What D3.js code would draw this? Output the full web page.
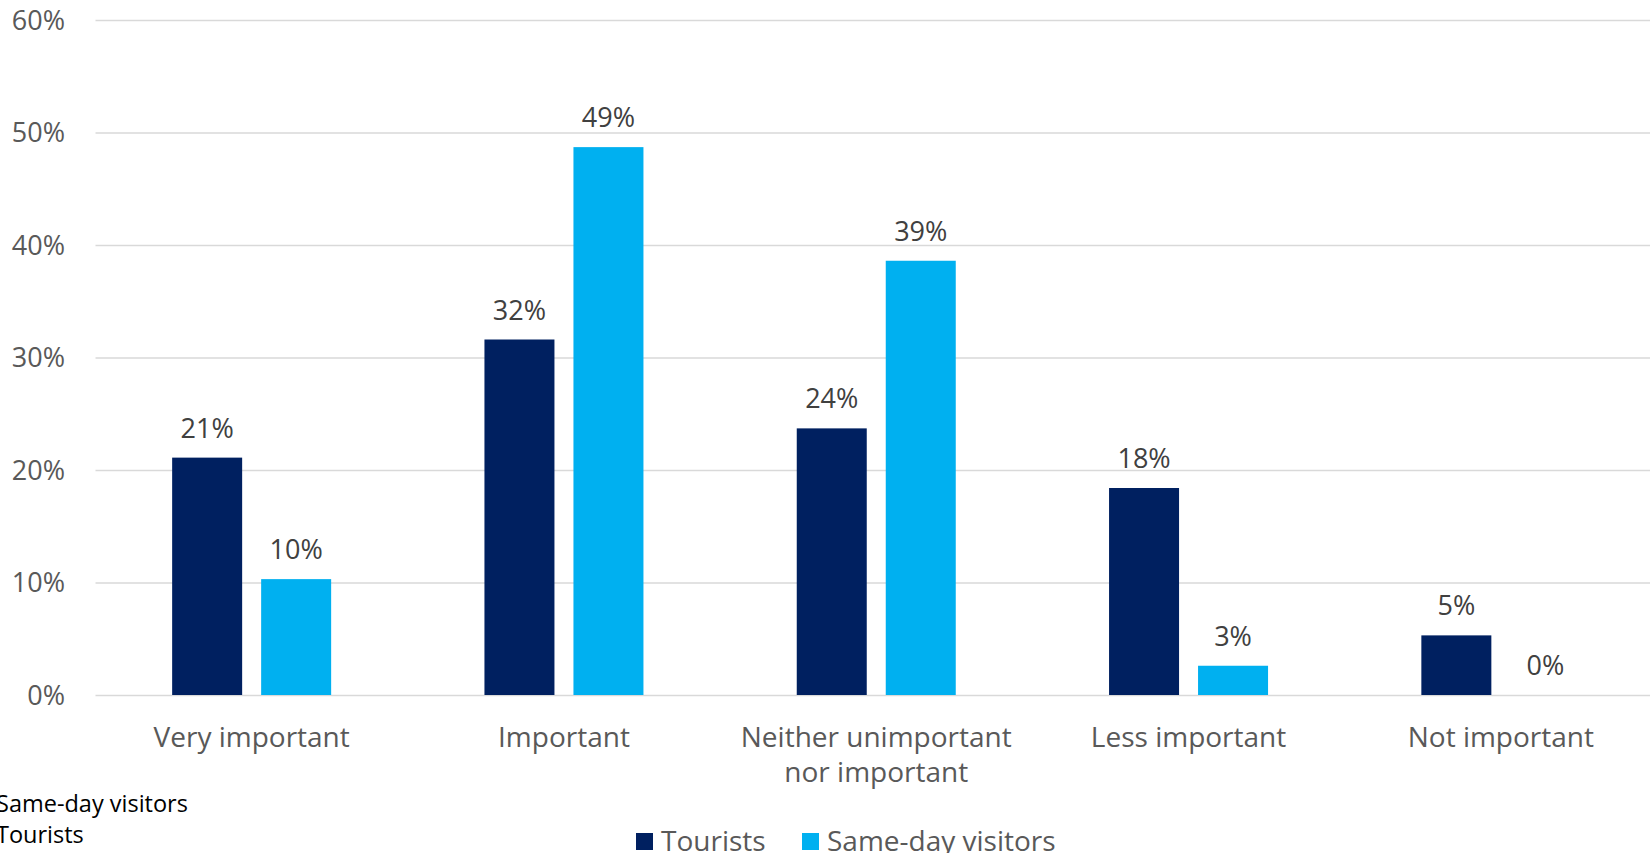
<!DOCTYPE html>
<html>
<head>
<meta charset="utf-8">
<script src="https://cdn.jsdelivr.net/npm/d3@7"></script>
<style>
  html, body { margin: 0; padding: 0; background: #fff; overflow: hidden; }
  svg { display: block; }
  text { font-family: "Open Sans", "Noto Sans", sans-serif; }
</style>
</head>
<body>
<svg id="chart" width="1650" height="853"></svg>
<script>
// Importance ratings by visitor type
const categories = [
  ["Very important"],
  ["Important"],
  ["Neither unimportant", "nor important"],
  ["Less important"],
  ["Not important"]
];
const seriesNames = ["Tourists", "Same-day visitors"];
const tourists = [0.211, 0.316, 0.237, 0.184, 0.053];
const sameDay  = [0.103, 0.487, 0.386, 0.026, 0.0];
const yTicks = [0, 0.1, 0.2, 0.3, 0.4, 0.5, 0.6];
const colors = ["#002060", "#00B0F0"];

const svg = d3.select("#chart");
const fmt = d3.format(".0%");

const plotLeft = 95.5, plotRight = 1657;

const x0 = d3.scaleBand()
  .domain(d3.range(categories.length))
  .range([plotLeft, plotRight]);

const groupWidth = 159;
const x1 = d3.scaleBand()
  .domain(seriesNames)
  .range([0, groupWidth])
  .paddingInner(19 / 89);

const y = d3.scaleLinear().domain([0, 0.6]).range([695, 20]);

// gridlines
const grid = svg.append("g")
  .attr("transform", `translate(${plotLeft},0)`)
  .call(d3.axisLeft(y).tickValues(yTicks).tickSize(-(plotRight - plotLeft)).tickFormat(""));
grid.select(".domain").remove();
grid.selectAll(".tick line").attr("stroke", "#d9d9d9").attr("stroke-width", 1.5);

// y tick labels
const yAxis = svg.append("g")
  .attr("transform", "translate(65,0)")
  .call(d3.axisLeft(y).tickValues(yTicks).tickSize(0).tickPadding(0).tickFormat(fmt));
yAxis.select(".domain").remove();
yAxis.selectAll("text")
  .attr("font-family", "Open Sans")
  .attr("font-size", 27)
  .attr("fill", "#595959")
  .attr("dy", "0.35em");

// bars
const data = [tourists, sameDay];
const groups = svg.append("g").selectAll("g")
  .data(categories.map((c, i) => i))
  .join("g")
  .attr("transform", i => `translate(${x0(i) + (x0.bandwidth() - groupWidth) / 2},0)`);

groups.selectAll("rect")
  .data(i => seriesNames.map((s, k) => ({ s, k, v: data[k][i] })))
  .join("rect")
  .attr("x", d => x1(d.s))
  .attr("width", x1.bandwidth())
  .attr("y", d => y(d.v))
  .attr("height", d => y(0) - y(d.v))
  .attr("fill", d => colors[d.k]);

groups.selectAll("text.val")
  .data(i => seriesNames.map((s, k) => ({ s, k, v: data[k][i] })))
  .join("text")
  .attr("class", "val")
  .attr("x", d => x1(d.s) + x1.bandwidth() / 2)
  .attr("y", d => y(d.v) - 20)
  .attr("text-anchor", "middle")
  .attr("font-size", 27)
  .attr("fill", "#404040")
  .text(d => fmt(d.v));

// category labels
const catG = svg.append("g");
categories.forEach((lines, i) => {
  const cx = x0(i) + x0.bandwidth() / 2;
  const t = catG.append("text")
    .attr("x", cx)
    .attr("y", 747)
    .attr("text-anchor", "middle")
    .attr("font-size", 28)
    .attr("fill", "#595959");
  lines.forEach((ln, j) => {
    t.append("tspan")
      .attr("x", cx)
      .attr("dy", j === 0 ? 0 : 35)
      .text(ln);
  });
});

// series names listed at the lower left
svg.append("text").attr("x", -4).attr("y", 812)
  .attr("font-size", 23.5).attr("fill", "#000").text(seriesNames[1]);
svg.append("text").attr("x", -4).attr("y", 843)
  .attr("font-size", 23.5).attr("fill", "#000").text(seriesNames[0]);

// legend
const legend = svg.append("g");
const legendItems = [
  { name: seriesNames[0], color: colors[0], x: 636 },
  { name: seriesNames[1], color: colors[1], x: 802 }
];
legendItems.forEach(d => {
  legend.append("rect").attr("x", d.x).attr("y", 833).attr("width", 17).attr("height", 17).attr("fill", d.color);
  legend.append("text").attr("x", d.x + 25).attr("y", 851)
    .attr("font-size", 28).attr("fill", "#595959").text(d.name);
});
</script>
</body>
</html>
